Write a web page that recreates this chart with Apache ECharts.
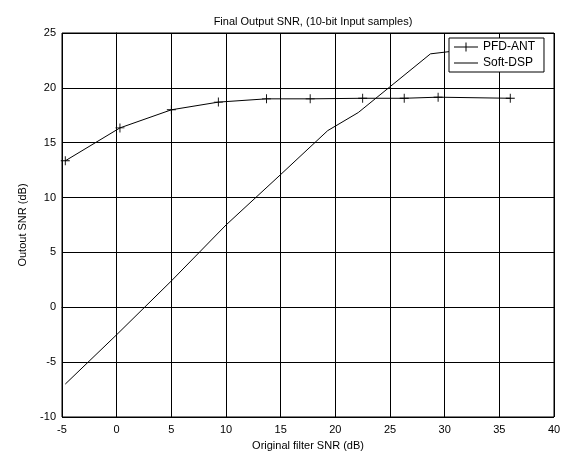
<!DOCTYPE html>
<html>
<head>
<meta charset="utf-8">
<script src="https://cdn.jsdelivr.net/npm/echarts@6/dist/echarts.min.js"></script>
<style>
  html, body { margin: 0; padding: 0; background: #fff; }
  #main { width: 570px; height: 456px; }
</style>
</head>
<body>
<div id="main"></div>
<script>
  // values
  const pfdX = [-4.7, 0.3, 5.0, 9.3, 13.7, 17.7, 22.5, 26.3, 29.4, 36.0]
  const pfdY = [13.35, 16.35, 18.0, 18.7, 19.0, 19.0, 19.05, 19.05, 19.15, 19.05]
  const softX = [-4.7, 0, 5, 10, 15, 19.3, 22.1, 28.7, 30.4, 36.0]
  const softY = [-7.0, -2.5, 2.4, 7.5, 12.1, 16.1, 17.75, 23.1, 23.3, 23.7]
  const xTicks = [-5, 40, 5]
  const yTicks = [-10, 25, 5]

  const font = 'Liberation Sans, Arial, sans-serif'
  const plus = 'path://M0,4.5H10V5.5H0Z M4.5,0H5.5V10H4.5Z'
  // legend icons, padded so the box keeps its full height
  const plainLine = 'path://M0,0L0.01,0Z M0,5.5H24V6.5H0Z M24,12L23.99,12Z'
  const plusLine = 'path://M0,0L0.01,0Z M0,5.5H24V6.5H0Z M11.5,1.5H12.5V10.5H11.5Z M24,12L23.99,12Z'

  const chart = echarts.init(document.getElementById('main'))
  chart.setOption({
    animation: false,
    backgroundColor: '#fff',
    title: {
      text: 'Final Output SNR, (10-bit Input samples)',
      left: 308,
      textAlign: 'center',
      top: 11,
      textStyle: { fontFamily: font, fontSize: 11, fontWeight: 'normal', color: '#000' }
    },
    grid: {
      left: 62, right: 16, top: 33, bottom: 35,
      show: true, borderColor: '#000', borderWidth: 1
    },
    legend: {
      orient: 'vertical',
      left: 449, top: 38,
      width: 98,
      padding: [3, 9, 3, 5],
      itemWidth: 24, itemHeight: 12, itemGap: 4,
      backgroundColor: '#fff',
      borderColor: '#000', borderWidth: 1,
      textStyle: { fontFamily: font, fontSize: 12, color: '#000' },
      data: [{ name: 'PFD-ANT', icon: plusLine }, { name: 'Soft-DSP', icon: plainLine }]
    },
    xAxis: {
      type: 'value',
      min: xTicks[0], max: xTicks[1], interval: xTicks[2],
      name: 'Original filter SNR (dB)',
      nameLocation: 'middle', nameGap: 23,
      nameTextStyle: { fontFamily: font, fontSize: 11, color: '#000' },
      axisLine: { lineStyle: { color: '#000', width: 1 } },
      axisTick: { inside: true, length: 4, lineStyle: { color: '#000' } },
      axisLabel: { fontFamily: font, fontSize: 11, color: '#000', margin: 7 },
      splitLine: { show: true, lineStyle: { color: '#000', width: 1 } }
    },
    yAxis: {
      type: 'value',
      min: yTicks[0], max: yTicks[1], interval: yTicks[2],
      name: 'Outout SNR (dB)',
      nameLocation: 'middle', nameGap: 34,
      nameTextStyle: { fontFamily: font, fontSize: 11, color: '#000' },
      axisLine: { show: true, lineStyle: { color: '#000', width: 1 } },
      axisTick: { show: true, inside: true, length: 4, lineStyle: { color: '#000' } },
      axisLabel: { fontFamily: font, fontSize: 11, color: '#000', margin: 6 },
      splitLine: { show: true, lineStyle: { color: '#000', width: 1 } }
    },
    series: [
      {
        name: 'PFD-ANT',
        type: 'line',
        data: pfdX.map((x, i) => [x, pfdY[i]]),
        symbol: plus,
        symbolSize: 9,
        showAllSymbol: true,
        lineStyle: { color: '#000', width: 1 },
        itemStyle: { color: '#000' },
        z: 3
      },
      {
        name: 'Soft-DSP',
        type: 'line',
        data: softX.map((x, i) => [x, softY[i]]),
        symbol: 'none',
        lineStyle: { color: '#000', width: 1 },
        itemStyle: { color: '#000' },
        z: 2
      }
    ]
  })
</script>
</body>
</html>
